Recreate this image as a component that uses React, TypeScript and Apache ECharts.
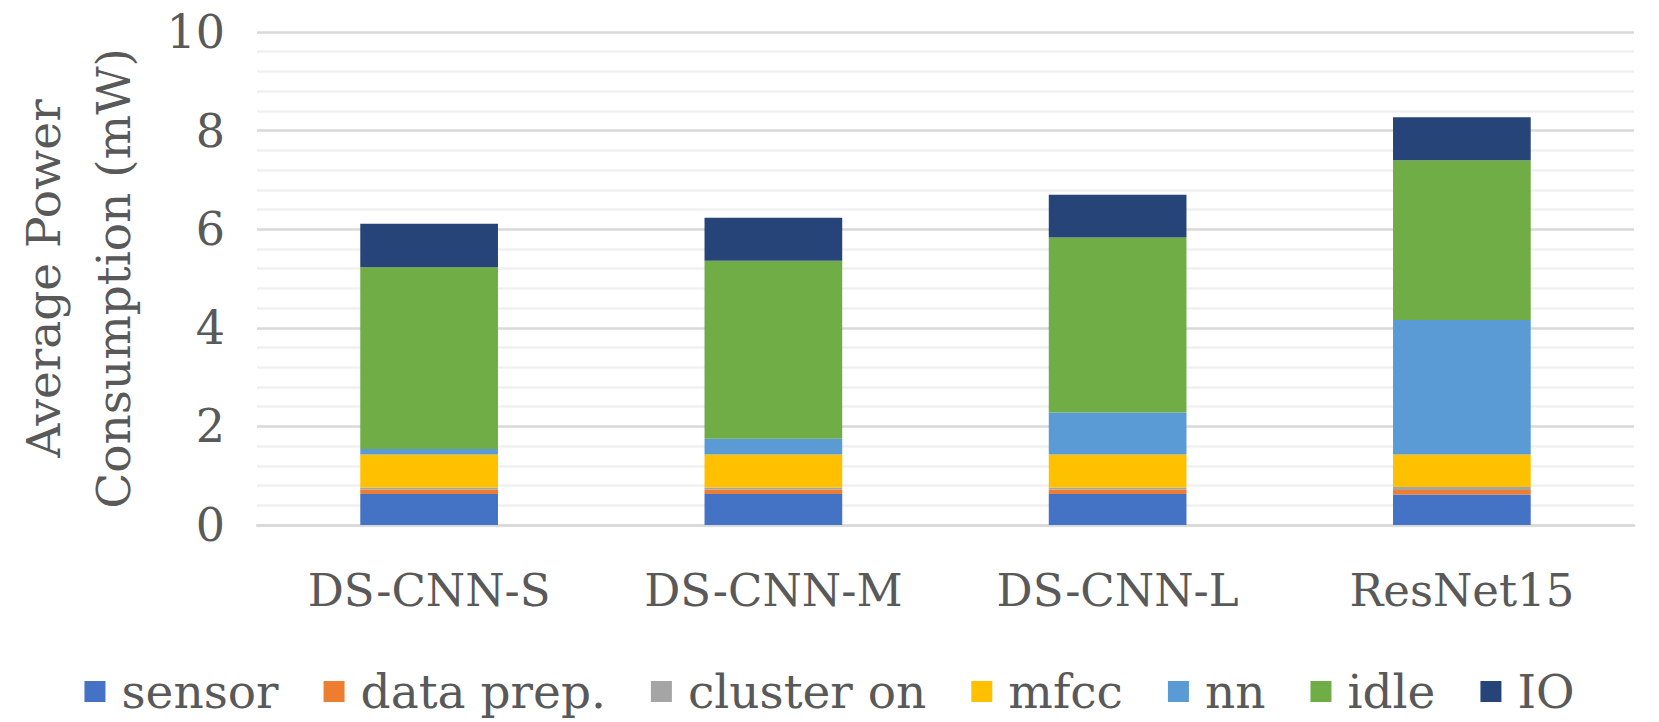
import React, { useEffect, useRef } from "react";
import * as echarts from "echarts";

const categories = ["DS-CNN-S", "DS-CNN-M", "DS-CNN-L", "ResNet15"];
const seriesNames = ["sensor", "data prep.", "cluster on", "mfcc", "nn", "idle", "IO"];
const sensor = [0.63, 0.63, 0.63, 0.62];
const dataPrep = [0.09, 0.09, 0.09, 0.09];
const clusterOn = [0.04, 0.04, 0.04, 0.06];
const mfcc = [0.67, 0.67, 0.67, 0.66];
const nn = [0.11, 0.32, 0.85, 2.73];
const idle = [3.69, 3.61, 3.55, 3.24];
const io = [0.88, 0.87, 0.87, 0.87];
const colors = ["#4472C4", "#ED7D31", "#A5A5A5", "#FFC000", "#5B9BD5", "#70AD47", "#264478"];
const yTicks = { min: 0, max: 10, interval: 2 };

const FONT = "'DejaVu Serif', serif";
const TXT = "#595959";

export default function App() {
  const ref = useRef<HTMLDivElement>(null);
  useEffect(() => {
    if (!ref.current) return;
    const chart = echarts.init(ref.current, undefined, { renderer: "svg" });
    const values = [sensor, dataPrep, clusterOn, mfcc, nn, idle, io];
    chart.setOption({
      animation: false,
      color: colors,
      grid: { left: 241, right: 25, top: 32, bottom: 197, containLabel: false },
      legend: {
        data: seriesNames,
        bottom: 2,
        left: "center",
        itemWidth: 21,
        itemHeight: 21,
        itemGap: 45,
        icon: "rect",
        textStyle: { fontFamily: FONT, fontSize: 47, color: TXT, padding: [0, 0, 0, 11] },
      },
      xAxis: {
        type: "category",
        data: categories,
        axisLine: { lineStyle: { color: "#d9d9d9", width: 2.5 } },
        axisTick: { show: false },
        axisLabel: { fontFamily: FONT, fontSize: 45, color: TXT, margin: 43 },
      },
      yAxis: {
        type: "value",
        min: yTicks.min,
        max: yTicks.max,
        interval: yTicks.interval,
        name: "Average Power\nConsumption (mW)",
        nameLocation: "middle",
        nameRotate: 90,
        nameGap: 109,
        nameTextStyle: { fontFamily: FONT, fontSize: 47, color: TXT, lineHeight: 70 },
        axisLine: { show: false },
        axisTick: { show: false },
        axisLabel: { fontFamily: FONT, fontSize: 46, color: TXT, margin: 32 },
        splitLine: { lineStyle: { color: "#d9d9d9", width: 2.5 } },
        minorTick: { show: false, splitNumber: 5 },
        minorSplitLine: { show: true, lineStyle: { color: "#f0f0f0", width: 2.5 } },
      },
      series: seriesNames.map((name, i) => ({
        name,
        type: "bar",
        stack: "total",
        barWidth: "40%",
        data: values[i],
        itemStyle: { color: colors[i] },
      })),
    });
    return () => chart.dispose();
  }, []);
  return (
    <div
      ref={ref}
      style={{ position: "fixed", left: 0, top: 0, width: 1659, height: 722, background: "#fff" }}
    />
  );
}
